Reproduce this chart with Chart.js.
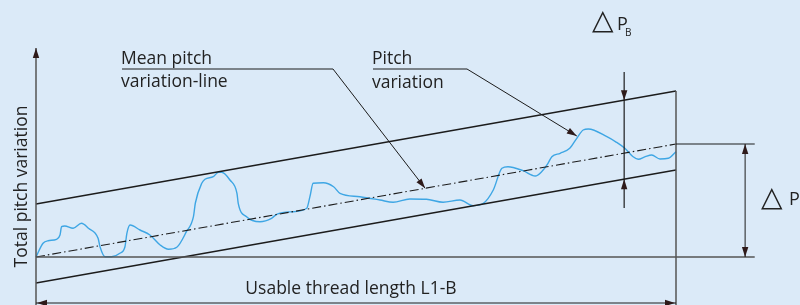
<!DOCTYPE html>
<html>
<head>
<meta charset="utf-8">
<script src="https://cdn.jsdelivr.net/npm/chart.js@4/dist/chart.umd.min.js"></script>
<style>
  html, body { margin: 0; padding: 0; background: #dbeaf8; }
  #wrap { width: 800px; height: 305px; position: relative; }
</style>
</head>
<body>
<div id="wrap"><canvas id="chart"></canvas></div>
<script>
// x = position along usable thread length (0..100), y = pitch variation
const curveX = [0, 1.1, 1.9, 3.2, 3.75, 4.0, 4.5, 5.8, 7.1, 8.2, 9.7, 10.0, 10.8, 11.8, 13.1, 13.9, 14.2, 14.7,
  16.25, 17.8, 19.4, 20.7, 22.0, 23.5, 24.6, 24.9, 25.9, 26.4, 27.7, 28.5, 29.0, 30.3, 31.4, 31.6, 32.9, 35.0,
  36.8, 37.6, 40.2, 42.3, 42.8, 43.3, 44.9, 46.5, 47.5, 50.6, 53.75, 55.8, 58.4, 61.0, 63.6, 66.25, 68.3, 69.9,
  71.45, 72.8, 73.75, 76.1, 78.0, 79.0, 80.0, 80.6, 81.9, 83.4, 84.5, 85.5, 86.3, 89.2, 90.7, 92.0, 93.3, 94.1,
  95.2, 96.2, 97.5, 98.8, 100];
const curveY = [0, 13.7, 16.3, 17.7, 22, 30.3, 31, 28.7, 33.7, 28.7, 18.7, 10.3, 0.3, 0.3, 3.7, 10.3, 23.7, 32,
  27, 22, 12, 7.7, 9.7, 25.3, 40.3, 54, 73.7, 77.7, 80.3, 84.7, 84.7, 77, 63.7, 53.7, 40.3, 35.3,
  38.7, 42.7, 45.3, 48.7, 60.3, 73.7, 74.3, 70.3, 63.7, 60.3, 57, 54.7, 58, 57.7, 54.7, 57, 51.3, 53.7,
  67, 88.7, 90.3, 86.3, 81, 85.3, 93.7, 100.3, 103.7, 108.7, 118.7, 127, 128, 120.3, 114.7, 108.7, 100.3, 97.7,
  100.3, 102, 98, 98.7, 105.3];

const bandX = [0, 100];
const meanY = [0, 113];
const upperY = [53, 166];
const lowerY = [-26, 87];

const deltaPBx = 91.9;        // position of the ΔP_B measurement
const meanArrowX = 60.8;      // leader tip on mean line
const pitchArrowX = 84.5;     // leader tip on pitch curve
const pitchArrowY = 121;

const toPts = (xs, ys) => xs.map((x, i) => ({ x: x, y: ys[i] }));
const lerp = (ys, x) => ys[0] + (ys[1] - ys[0]) * (x - bandX[0]) / (bandX[1] - bandX[0]);

const INK = '#1c1c1c';
const GREY = '#555555';
const ARROW = '#2e1a1a';
const FONT = '"Open Sans", "Noto Sans", sans-serif';

const drawingPlugin = {
  id: 'drawing',
  beforeDraw(chart) {
    const c = chart.ctx;
    c.save();
    c.fillStyle = '#dbeaf8';
    c.fillRect(0, 0, chart.width, chart.height);
    c.restore();
  },
  afterDatasetsDraw(chart) {
    const c = chart.ctx;
    const sx = chart.scales.x, sy = chart.scales.y;
    const px = v => sx.getPixelForValue(v);
    const py = v => sy.getPixelForValue(v);

    function line(x1, y1, x2, y2, color, w) {
      c.beginPath();
      c.strokeStyle = color;
      c.lineWidth = w;
      c.moveTo(x1, y1);
      c.lineTo(x2, y2);
      c.stroke();
    }
    function head(tx, ty, fx, fy) {
      const a = Math.atan2(ty - fy, tx - fx);
      const len = 10, half = 3.2;
      c.beginPath();
      c.fillStyle = ARROW;
      c.moveTo(tx, ty);
      c.lineTo(tx - len * Math.cos(a) + half * Math.sin(a), ty - len * Math.sin(a) - half * Math.cos(a));
      c.lineTo(tx - len * Math.cos(a) - half * Math.sin(a), ty - len * Math.sin(a) + half * Math.cos(a));
      c.closePath();
      c.fill();
    }

    c.save();
    const x0 = px(0), x100 = px(100), y0 = py(0);
    const xEnd = px(112.3);

    // y axis with arrow
    line(x0, chart.height, x0, 48, GREY, 1.5);
    head(x0, 48, x0, 70);
    // baseline
    line(x0, y0, xEnd, y0, GREY, 1.5);
    // right boundary
    line(x100, py(upperY[1]), x100, chart.height, GREY, 1.5);
    // ΔP top reference line and dimension
    line(x100, py(meanY[1]), xEnd, py(meanY[1]), INK, 1.2);
    const xdp = px(110.8);
    line(xdp, py(meanY[1]), xdp, y0, INK, 1);
    head(xdp, py(meanY[1]), xdp, py(meanY[1]) + 20);
    head(xdp, y0, xdp, y0 - 20);

    // bottom dimension line
    const yb = 303;
    line(x0, yb, x100, yb, INK, 1);
    head(x0 + 1, yb, x0 + 20, yb);
    head(x100 - 1, yb, x100 - 20, yb);

    // ΔP_B dimension
    const xb = px(deltaPBx);
    line(xb, 72, xb, 208, INK, 1.2);
    head(xb, py(lerp(upperY, deltaPBx)), xb, py(lerp(upperY, deltaPBx)) - 20);
    head(xb, py(lerp(lowerY, deltaPBx)), xb, py(lerp(lowerY, deltaPBx)) + 20);

    // leaders
    line(122, 69, 333, 69, INK, 1.2);
    const mtx = px(meanArrowX), mty = py(lerp(meanY, meanArrowX));
    line(333, 69, mtx, mty, INK, 1);
    head(mtx, mty, 333, 69);
    line(373, 69, 467, 69, INK, 1.2);
    const ptx = px(pitchArrowX), pty = py(pitchArrowY);
    line(467, 69, ptx, pty, INK, 1);
    head(ptx, pty, 467, 69);

    // texts
    c.fillStyle = '#222';
    c.font = '17.5px ' + FONT;
    c.textAlign = 'left';
    c.textBaseline = 'alphabetic';
    c.fillText('Mean pitch', 121, 64);
    c.fillText('variation-line', 121, 87);
    c.fillText('Pitch', 372, 64);
    c.fillText('variation', 372, 88);
    c.textAlign = 'center';
    c.fillText('Usable thread length L1-B', 351, 294);

    c.save();
    c.translate(27, 186.5);
    c.rotate(-Math.PI / 2);
    c.fillText('Total pitch variation', 0, 0);
    c.restore();

    // ΔP_B and ΔP labels
    c.textAlign = 'left';
    c.font = '28px "DejaVu Sans"';
    c.fillText('△', 592, 29);
    c.fillText('△', 761, 206);
    c.font = '18px ' + FONT;
    c.fillText('P', 617, 30);
    c.fillText('P', 789, 205);
    c.font = '10px ' + FONT;
    c.fillText('B', 625, 36);
    c.restore();
  }
};

new Chart(document.getElementById('chart'), {
  type: 'line',
  data: {
    datasets: [
      { data: toPts(bandX, upperY), borderColor: INK, borderWidth: 1.3, pointRadius: 0 },
      { data: toPts(bandX, lowerY), borderColor: INK, borderWidth: 1.3, pointRadius: 0 },
      { data: toPts(bandX, meanY), borderColor: INK, borderWidth: 1.1, pointRadius: 0, borderDash: [9, 3, 1.5, 3] },
      { data: toPts(curveX, curveY), borderColor: '#3ea6e4', borderWidth: 1.4, pointRadius: 0,
        cubicInterpolationMode: 'monotone' }
    ]
  },
  options: {
    responsive: true,
    maintainAspectRatio: false,
    animation: false,
    layout: { padding: 0 },
    plugins: { legend: { display: false }, tooltip: { enabled: false } },
    scales: {
      x: { type: 'linear', display: false, min: -5.625, max: 119.375 },
      y: { type: 'linear', display: false, min: -48, max: 257 }
    }
  },
  plugins: [drawingPlugin]
});
</script>
</body>
</html>
